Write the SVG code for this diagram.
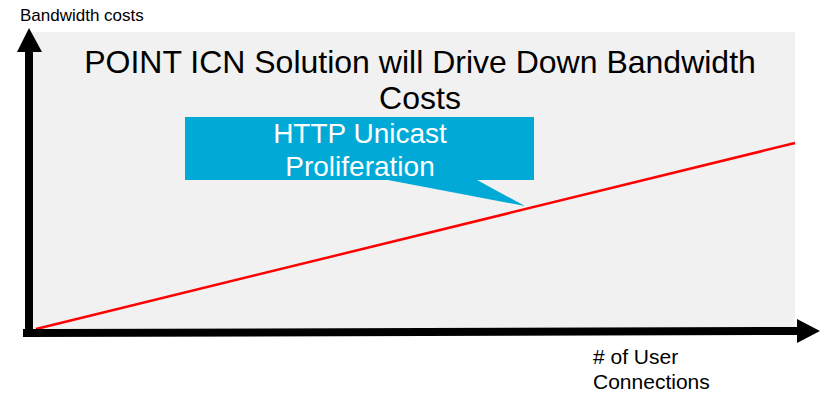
<svg xmlns="http://www.w3.org/2000/svg" width="822" height="393" viewBox="0 0 822 393">
<style>
text{font-family:"Liberation Sans",Arial,sans-serif}
.lbl{font-size:17px;fill:#000}
.lbl2{font-size:21px;fill:#000}
.title{font-size:32px;fill:#000;text-anchor:middle}
.call{font-size:28px;fill:#fff;text-anchor:middle}
.axis{stroke:#000;stroke-width:8;fill:none}
</style>
<rect id="plot" x="32" y="32" width="763" height="296" fill="#f1f1f1"/>
<g id="title">
<text class="title" x="420" y="73">POINT ICN Solution will Drive Down Bandwidth</text>
<text class="title" x="420" y="109">Costs</text>
</g>
<g id="callout">
<path d="M185,117 H534 V180 H477 L525,206 L388,180 H185 Z" fill="#00a9d6"/>
<text class="call" x="360" y="143">HTTP Unicast</text>
<text class="call" x="360" y="176">Proliferation</text>
</g>
<g id="connectors">
<line x1="36" y1="329" x2="795" y2="143" stroke="#ff0000" stroke-width="2.5"/>
<line class="axis" x1="29" y1="333" x2="29" y2="52"/>
<path d="M17,52 L29,28 L42,52 Z" fill="#000"/>
<line class="axis" x1="23" y1="333" x2="798" y2="331"/>
<path d="M797,319 L820,331 L797,343 Z" fill="#000"/>
</g>
<g id="labels">
<text class="lbl" x="20" y="21">Bandwidth costs</text>
<text class="lbl2" x="593" y="364"># of User</text>
<text class="lbl2" x="593" y="389">Connections</text>
</g>
</svg>
